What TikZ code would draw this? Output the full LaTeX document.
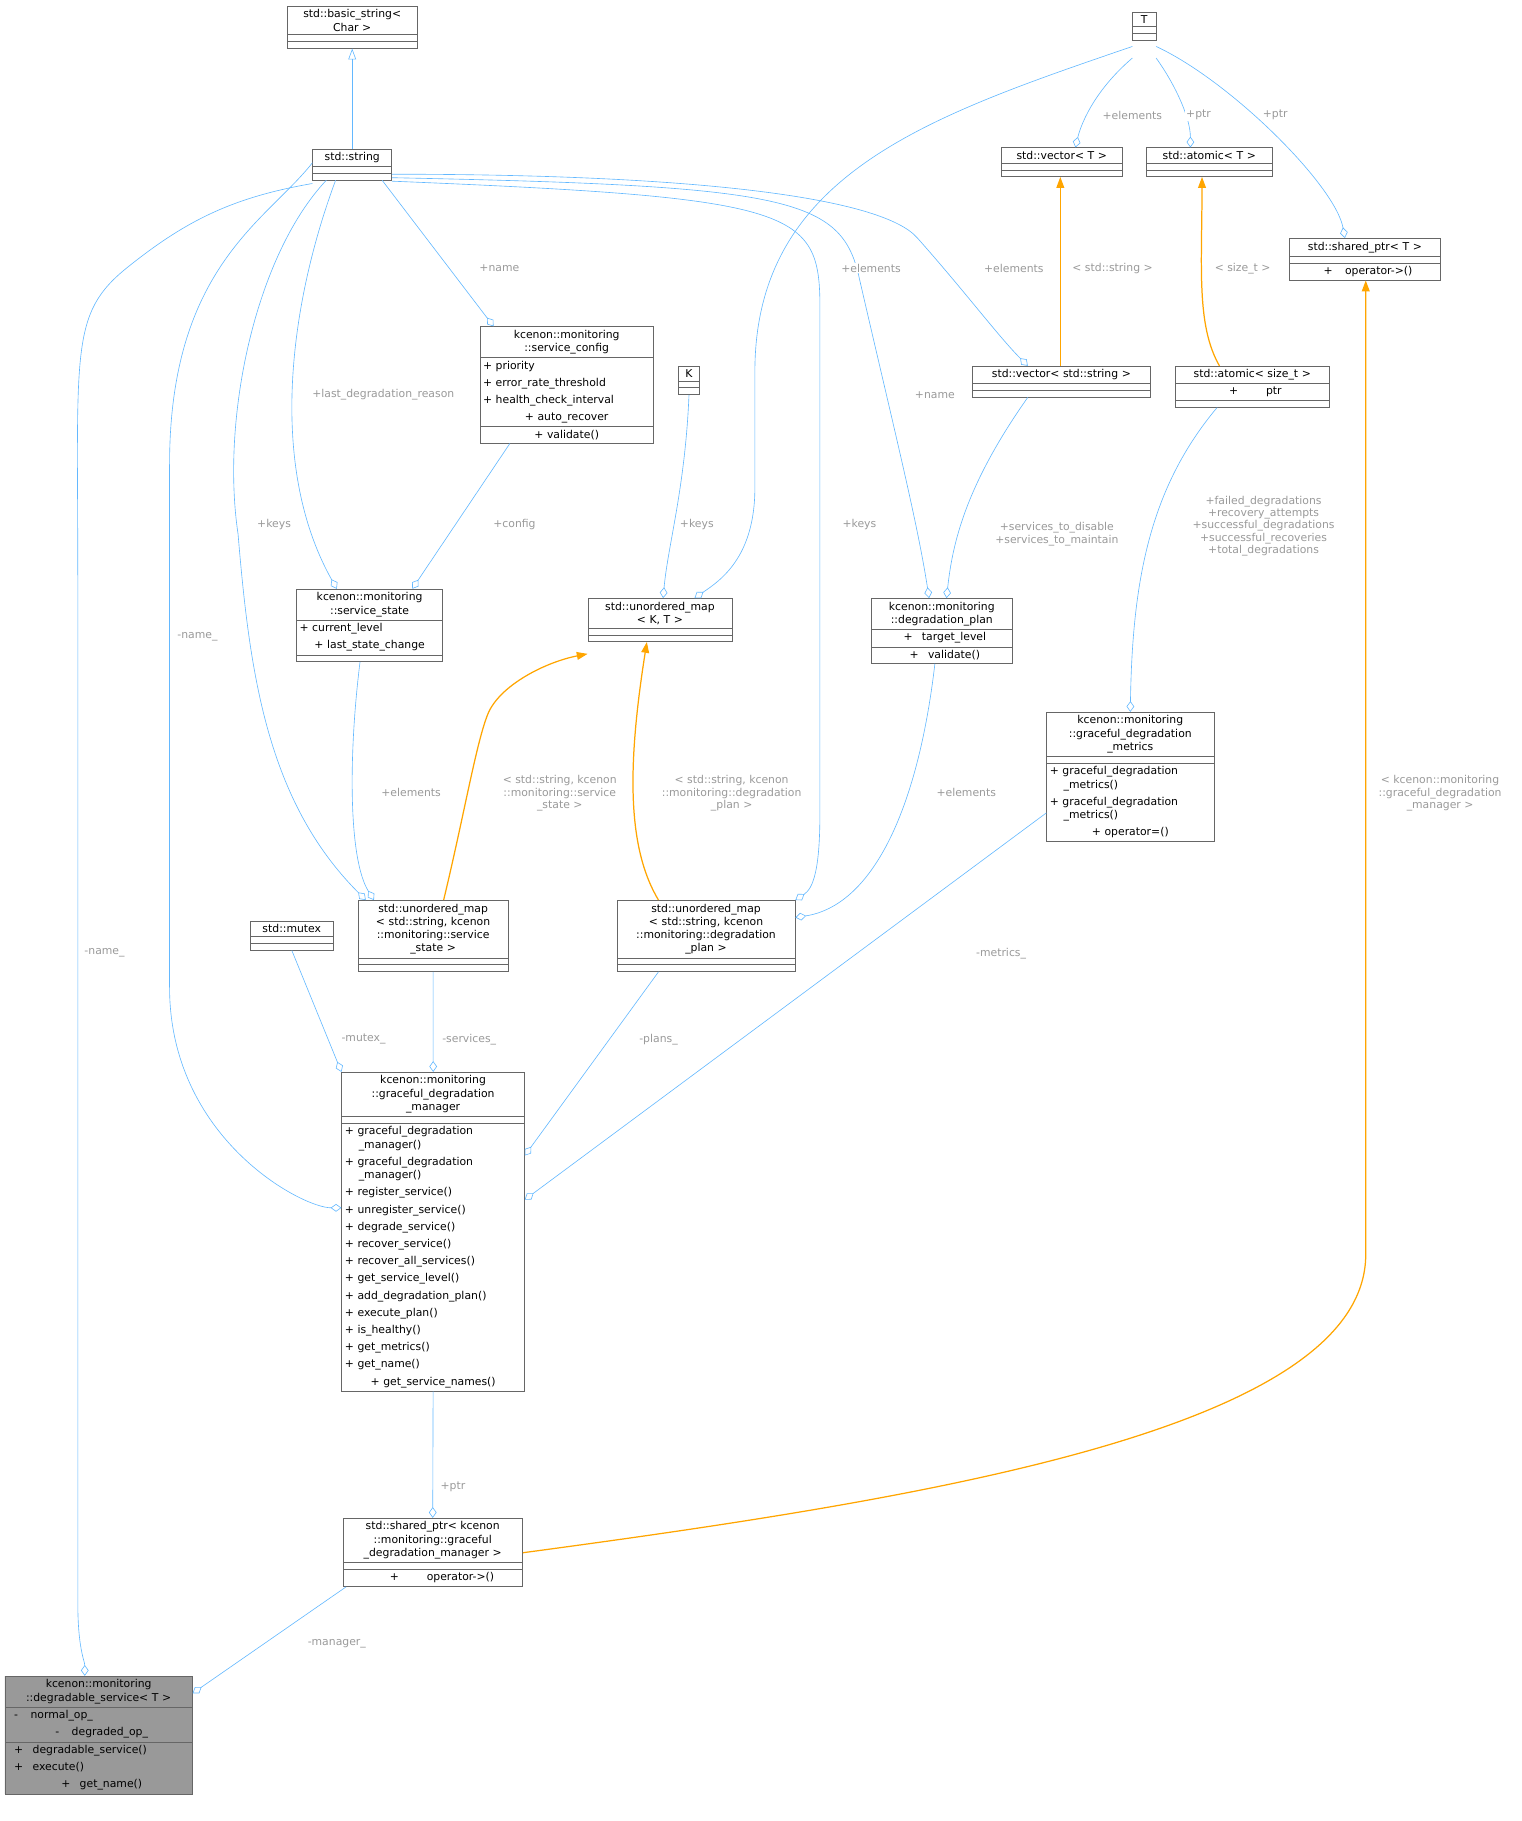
\documentclass[tikz,border=0pt]{standalone}
\usepackage{fontspec}
\setmainfont{DejaVu Sans}
\usetikzlibrary{shapes.multipart,arrows.meta,calc}
\definecolor{edgeb}{HTML}{63B8FF}
\definecolor{edgeo}{HTML}{FFA500}
\definecolor{lbl}{HTML}{9A9A9A}
\newcommand{\mysep}{\\[2.5pt]}
\newcommand{\cls}[8]{\node[cls,text width=#4pt,#5] (#1) at (#2,#3) {#6\nodepart{two}\raggedright #7\nodepart{three}\raggedright #8};}
\tikzset{
  x=0.75pt,y=-0.75pt,
  cls/.style={rectangle split,rectangle split parts=3,draw=black!60,anchor=north west,align=center,
    inner sep=2pt,font=\fontsize{7}{8.6}\selectfont,rectangle split empty part height=6pt,fill=white},
  agg/.style={draw=edgeb,-{Diamond[open,length=7pt,width=5pt]}},
  inh/.style={draw=edgeb,-{Triangle[open,length=7pt,width=5pt]}},
  tmpl/.style={draw=edgeo,thick,-{Triangle[length=7pt,width=5pt]}},
  lab/.style={text=lbl,font=\fontsize{7}{8}\selectfont,align=center,fill=white,inner sep=0.5pt}
}
\begin{document}
\begin{tikzpicture}
\useasboundingbox (0,0) rectangle (1310,1568);
\cls{bstr}{247}{5}{80}{}{std::basic\_string\textless\\Char \textgreater}{}{}
\cls{str}{269}{128}{47}{}{std::string}{}{}
\cls{T}{975}{10}{11}{}{T}{}{}
\cls{vecT}{862}{127}{74}{}{std::vector\textless{} T \textgreater}{}{}
\cls{atT}{987}{127}{77}{}{std::atomic\textless{} T \textgreater}{}{}
\cls{shT}{1110}{205}{93.5}{}{std::shared\_ptr\textless{} T \textgreater}{}{\hspace*{4pt}+\hspace{8pt}operator-\textgreater()}
\cls{cfg}{413}{281}{108}{}{kcenon::monitoring\\::service\_config}{+ priority\mysep + error\_rate\_threshold\mysep + health\_check\_interval\mysep + auto\_recover}{+ validate()}
\cls{K}{584}{315}{9.5}{}{K}{}{}
\cls{vecs}{837}{315}{111}{}{std::vector\textless{} std::string \textgreater}{}{}
\cls{ats}{1012}{315}{95}{}{std::atomic\textless{} size\_t \textgreater}{\hspace*{4pt}+\hspace{18pt}ptr}{}
\cls{st}{255}{507}{90.5}{}{kcenon::monitoring\\::service\_state}{+ current\_level\mysep + last\_state\_change}{}
\cls{mKT}{506}{515}{89}{}{std::unordered\_map\\\textless{} K, T \textgreater}{}{}
\cls{plan}{750}{515}{87}{}{kcenon::monitoring\\::degradation\_plan}{\hspace*{4pt}+\hspace{6pt}target\_level}{\hspace*{4pt}+\hspace{6pt}validate()}
\cls{met}{901}{613}{104}{}{kcenon::monitoring\\::graceful\_degradation\\\_metrics}{}{+ graceful\_degradation\\\hspace*{9pt}\_metrics()\mysep + graceful\_degradation\\\hspace*{9pt}\_metrics()\mysep + operator=()}
\cls{mtx}{215}{793}{50}{}{std::mutex}{}{}
\cls{mst}{308}{775}{93}{}{std::unordered\_map\\\textless{} std::string, kcenon\\::monitoring::service\\\_state \textgreater}{}{}
\cls{mpl}{531}{775}{111}{}{std::unordered\_map\\\textless{} std::string, kcenon\\::monitoring::degradation\\\_plan \textgreater}{}{}
\cls{mgr}{294}{923}{114}{}{kcenon::monitoring\\::graceful\_degradation\\\_manager}{}{+ graceful\_degradation\\\hspace*{9pt}\_manager()\mysep + graceful\_degradation\\\hspace*{9pt}\_manager()\mysep + register\_service()\mysep + unregister\_service()\mysep + degrade\_service()\mysep + recover\_service()\mysep + recover\_all\_services()\mysep + get\_service\_level()\mysep + add\_degradation\_plan()\mysep + execute\_plan()\mysep + is\_healthy()\mysep + get\_metrics()\mysep + get\_name()\mysep + get\_service\_names()}
\cls{shm}{295}{1307}{112}{}{std::shared\_ptr\textless{} kcenon\\::monitoring::graceful\\\_degradation\_manager \textgreater}{}{\hspace*{12pt}+\hspace{18pt}operator-\textgreater()}
\cls{dsv}{4}{1443}{117}{fill=black!40}{kcenon::monitoring\\::degradable\_service\textless{} T \textgreater}{\hspace*{4pt}-\hspace{8pt}normal\_op\_\mysep \hspace*{4pt}-\hspace{8pt}degraded\_op\_}{\hspace*{4pt}+\hspace{6pt}degradable\_service()\mysep \hspace*{4pt}+\hspace{6pt}execute()\mysep \hspace*{4pt}+\hspace{6pt}get\_name()}

% inheritance
\draw[inh] (str.north) -- (bstr.south);
% aggregations
\draw[agg] ($(str.north west)+(0,30)$) .. controls (200,170) and (160,190) .. (110,230) .. controls (60,270) and (67,300) .. (67,500) -- (67,1380) .. controls (67,1420) and (73,1430) .. ($(dsv.north west)+(69,0)$);
\node[lab] at (90,820) {-name\_};
\draw[agg] ($(str.south west)+(0,-15)$) .. controls (230,190) and (146,230) .. (146,400) -- (146,850) .. controls (146,980) and (260,1040) .. ($(mgr.north west)+(0,117)$);
\node[lab] at (170,548) {-name\_};
\draw[agg] ($(str.south west)+(60,0)$) -- ($(cfg.north west)+(12,0)$);
\node[lab] at (430,231) {+name};
\draw[agg] ($(str.south west)+(20,0)$) .. controls (250,260) and (230,400) .. ($(st.north west)+(35,0)$);
\node[lab] at (330,340) {+last\_degradation\_reason};
\draw[agg] ($(str.south west)+(12,0)$) .. controls (220,220) and (190,360) .. (205,460) .. controls (215,580) and (230,690) .. ($(mst.north west)+(7,0)$);
\node[lab] at (236,452) {+keys};
\draw[agg] ($(str.north east)+(0,25)$) .. controls (680,160) and (725,170) .. (740,240) .. controls (770,370) and (790,450) .. ($(plan.north west)+(50,0)$);
\node[lab] at (805,340) {+name};
\draw[agg] ($(str.north east)+(0,28)$) .. controls (680,170) and (705,180) .. (706,260) -- (706,700) .. controls (706,750) and (700,765) .. ($(mpl.north east)+(0,0)$);
\node[lab] at (740,452) {+keys};
\draw[agg] ($(str.north east)+(0,22)$) .. controls (600,150) and (760,170) .. (790,205) .. controls (830,250) and (860,290) .. ($(vecs.north west)+(48,0)$);
\node[lab] at (873,231) {+elements};
\draw[agg] ($(T.north west)+(0,30)$) .. controls (800,100) and (650,150) .. (650,320) -- (650,420) .. controls (650,480) and (620,500) .. ($(mKT.north west)+(92,0)$);
\node[lab] at (750,231) {+elements};
\draw[agg] ($(T.north west)+(0,40)$) .. controls (940,80) and (930,110) .. ($(vecT.north west)+(64,0)$);
\node[lab] at (975,99) {+elements};
\draw[agg] ($(T.north east)+(0,40)$) .. controls (1010,70) and (1025,100) .. ($(atT.north west)+(38,0)$);
\node[lab] at (1032,99) {+ptr};
\draw[agg] ($(T.north east)+(0,30)$) .. controls (1060,70) and (1150,160) .. ($(shT.north west)+(48,0)$);
\node[lab] at (1098,99) {+ptr};
\draw[agg] (K.south) .. controls (590,420) and (575,470) .. ($(mKT.north west)+(65,0)$);
\node[lab] at (600,452) {+keys};
\draw[agg] ($(cfg.south west)+(26,0)$) -- ($(st.north west)+(100,0)$);
\node[lab] at (443,452) {+config};
\draw[agg] ($(vecs.south west)+(48,0)$) .. controls (830,420) and (820,470) .. ($(plan.north west)+(65,0)$);
\node[lab] at (910,460) {+services\_to\_disable\\+services\_to\_maintain};
\draw[agg] ($(ats.south west)+(36,0)$) .. controls (990,420) and (975,500) .. (met.north);
\node[lab] at (1088,453) {+failed\_degradations\\+recovery\_attempts\\+successful\_degradations\\+successful\_recoveries\\+total\_degradations};
\draw[agg] ($(st.south west)+(55,0)$) .. controls (300,650) and (300,740) .. ($(mst.north west)+(14,0)$);
\node[lab] at (354,682) {+elements};
\draw[agg] ($(plan.south west)+(55,0)$) .. controls (790,700) and (750,780) .. ($(mpl.north east)+(0,15)$);
\node[lab] at (832,682) {+elements};
\draw[agg] (mtx.south) -- ($(mgr.north west)+(0,0)$);
\node[lab] at (313,895) {-mutex\_};
\draw[agg] (mst.south) -- ($(mgr.north west)+(79,0)$);
\node[lab] at (404,895) {-services\_};
\draw[agg] ($(mpl.south west)+(36,0)$) -- ($(mgr.north east)+(0,72)$);
\node[lab] at (567,895) {-plans\_};
\draw[agg] ($(met.south west)+(0,-25)$) -- ($(mgr.north east)+(0,110)$);
\node[lab] at (862,821) {-metrics\_};
\draw[agg] (mgr.south) -- (shm.north);
\node[lab] at (390,1280) {+ptr};
\draw[agg] ($(shm.south west)+(3,0)$) -- ($(dsv.north east)+(0,15)$);
\node[lab] at (290,1415) {-manager\_};
% template instantiations
\draw[tmpl] ($(mst.north west)+(74,0)$) .. controls (400,700) and (410,640) .. (420,615) .. controls (430,590) and (470,570) .. ($(mKT.north west)+(0,48)$);
\node[lab] at (482,683) {\textless{} std::string, kcenon\\::monitoring::service\\\_state \textgreater};
\draw[tmpl] ($(mpl.north west)+(36,0)$) .. controls (540,730) and (540,660) .. ($(mKT.south west)+(51,0)$);
\node[lab] at (630,683) {\textless{} std::string, kcenon\\::monitoring::degradation\\\_plan \textgreater};
\draw[tmpl] ($(vecs.north west)+(76,0)$) -- ($(vecT.south west)+(51,0)$);
\node[lab] at (958,231) {\textless{} std::string \textgreater};
\draw[tmpl] ($(ats.north west)+(38,0)$) .. controls (1030,280) and (1035,230) .. ($(atT.south west)+(48,0)$);
\node[lab] at (1070,231) {\textless{} size\_t \textgreater};
\draw[tmpl] ($(shm.north east)+(0,30)$) .. controls (800,1290) and (1176,1230) .. (1176,1080) -- ($(shT.south west)+(66,0)$);
\node[lab] at (1240,683) {\textless{} kcenon::monitoring\\::graceful\_degradation\\\_manager \textgreater};
\end{tikzpicture}
\end{document}
